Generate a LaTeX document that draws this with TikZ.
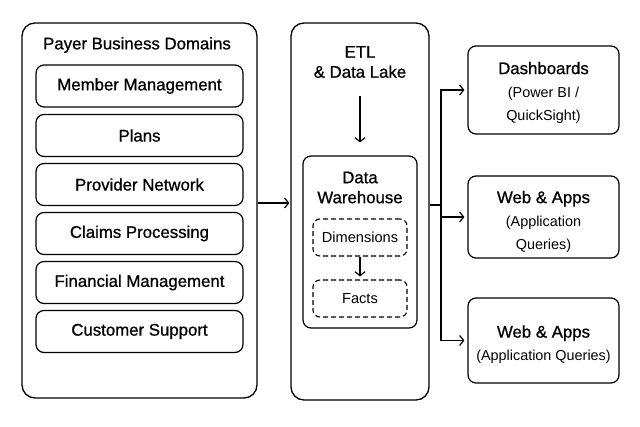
\documentclass[tikz,border=0pt]{standalone}
\usepackage{fontspec}
\setmainfont{Liberation Sans}
\newfontface\med{Liberation Sans}[FakeBold=0.8]
\newcommand\subtxt{\normalfont\fontsize{14.4}{19.5}\selectfont}
\usetikzlibrary{arrows.meta,calc}
\begin{document}
\begin{tikzpicture}[x=1pt,y=-1pt,
  outer/.style={draw,line width=1.3pt,rounded corners=13pt,inner sep=0pt},
  inner/.style={draw,line width=1.2pt,rounded corners=8pt,inner sep=0pt,font=\med\fontsize{16.8}{20}\selectfont},
  dbox/.style={draw,line width=1.1pt,dashed,dash pattern=on 5pt off 3pt,rounded corners=7pt,inner sep=0pt,font=\fontsize{14.6}{17}\selectfont},
  lbl/.style={font=\med\fontsize{16.8}{20}\selectfont,align=center,inner sep=0pt},
  rlbl/.style={font=\med\fontsize{16.8}{23}\selectfont,align=center,inner sep=0pt},
  arr/.style={line width=1.2pt,-{Straight Barb[length=4pt,width=10pt,line width=1.2pt]}},
  ln/.style={line width=1.2pt}]
\useasboundingbox (0,0) rectangle (640,426);
\fill[white] (0,0) rectangle (640,426);
% left
\node[outer,minimum width=235pt,minimum height=375pt] (left) at (139.5,210.5) {};
\node[lbl] (ltitle) at (137,45) {Payer Business Domains};
\node[inner,minimum width=207pt,minimum height=42pt] (d1) at (139.5,86) {Member Management};
\node[inner,minimum width=207pt,minimum height=42pt] (d2) at (139.5,135.5) {Plans};
\node[inner,minimum width=207pt,minimum height=42pt] (d3) at (139.5,184.5) {Provider Network};
\node[inner,minimum width=207pt,minimum height=42pt] (d4) at (139.5,233.5) {Claims Processing};
\node[inner,minimum width=207pt,minimum height=42pt] (d5) at (139.5,282.5) {Financial Management};
\node[inner,minimum width=207pt,minimum height=42pt] (d6) at (139.5,331.5) {Customer Support};
% middle
\node[outer,minimum width=138pt,minimum height=377pt] (mid) at (360,211.5) {};
\node[lbl] (etl) at (360,62) {ETL\\ \& Data Lake};
\node[inner,minimum width=114pt,minimum height=172pt] (dw) at (360,242) {};
\node[lbl] (dwt) at (360,187.5) {Data\\Warehouse};
\node[dbox,minimum width=94pt,minimum height=37pt] (dim) at (360,237.5) {Dimensions};
\node[dbox,minimum width=94pt,minimum height=37pt] (fac) at (360,298.5) {Facts};
\draw[arr,shorten <=18pt,shorten >=13pt] (etl.south) -- (dw.north);
\draw[arr,shorten >=3pt] (dim.south) -- (fac.north);
% left to middle
\coordinate (j1) at (0,203);
\draw[arr,shorten >=1pt] (left.east |- j1) -- (mid.west |- j1);
% right boxes
\node[inner,minimum width=151pt,minimum height=88pt] (dash) at (543.5,90) {};
\node[rlbl] (dasht) at (543.5,92.5) {Dashboards\\ \subtxt (Power BI /\\ \subtxt QuickSight)};
\node[inner,minimum width=151pt,minimum height=82pt] (web1) at (543.5,217) {};
\node[rlbl] (web1t) at (543.5,221.5) {Web \& Apps\\ \subtxt (Application\\ \subtxt Queries)};
\node[inner,minimum width=151pt,minimum height=85pt] (web2) at (543.5,340.5) {};
\node[rlbl] (web2t) at (543.5,344.5) {Web \& Apps\\ \subtxt (Application Queries)};
% branch
\coordinate (br) at (441,205);
\draw[ln] (mid.east |- br) -- (br);
\draw[ln] (br |- dash.west) -- (br |- web2.west);
\draw[arr,shorten >=3pt] (br) |- (dash.west);
\draw[arr,shorten >=3pt] (br) |- (web1.west);
\draw[arr,shorten >=3pt] (br) |- (web2.west);
\end{tikzpicture}
\end{document}
